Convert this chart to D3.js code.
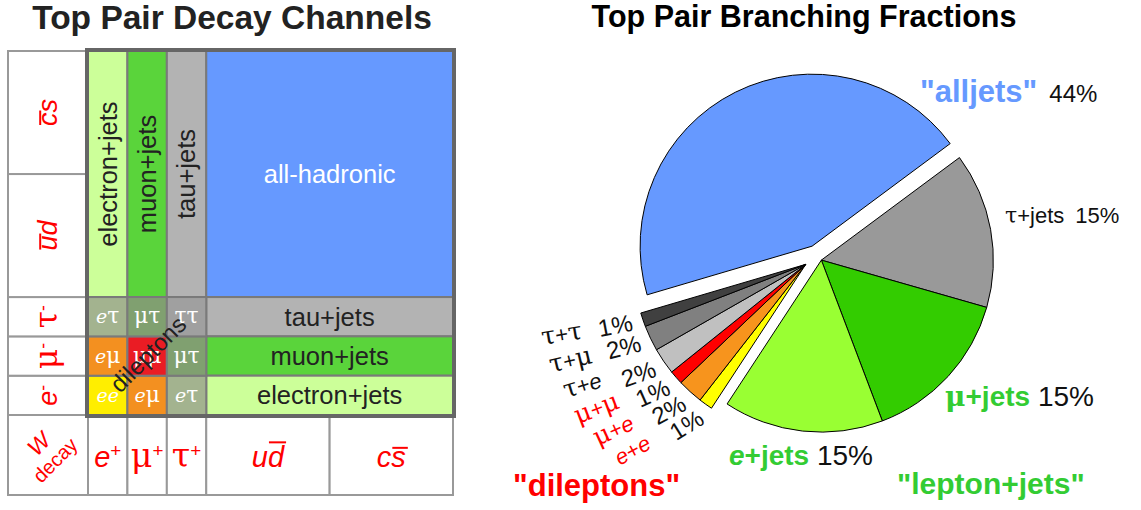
<!DOCTYPE html>
<html>
<head>
<meta charset="utf-8">
<script src="https://cdn.jsdelivr.net/npm/d3@7"></script>
<style>
  body { margin: 0; background: #fff; }
  text { font-family: "Liberation Sans", Arial, sans-serif; }
</style>
</head>
<body>
<script>
// W decay modes and their branching fractions (%), used for the grid widths
const wModes = ["e", "μ", "τ", "ud", "cs"];
const wFractions = [10.8, 10.8, 10.8, 33.8, 33.8];
// axis labels (^ = superscript, ! = bar over next char)
const wPlusLabels = ["e^+", "μ^+", "τ^+", "u!d", "c!s"];
const wMinusLabels = ["e^-", "μ^-", "τ^-", "!ud", "!cs"];

// grid channels: name, W+ first, W+ last, W- first, W- last
const gridChannels = [
  ["electron+jets", 0, 0, 3, 4],
  ["muon+jets", 1, 1, 3, 4],
  ["tau+jets", 2, 2, 3, 4],
  ["all-hadronic", 3, 4, 3, 4],
  ["tau+jets", 3, 4, 2, 2],
  ["muon+jets", 3, 4, 1, 1],
  ["electron+jets", 3, 4, 0, 0],
  ["ee", 0, 0, 0, 0], ["eμ", 1, 1, 0, 0], ["eτ", 2, 2, 0, 0],
  ["eμ", 0, 0, 1, 1], ["μμ", 1, 1, 1, 1], ["μτ", 2, 2, 1, 1],
  ["eτ", 0, 0, 2, 2], ["μτ", 1, 1, 2, 2], ["ττ", 2, 2, 2, 2]
];

// pie: top pair branching fractions (%)
const pieChannels = ["τ+jets", "μ+jets", "e+jets", "e+e", "μ+e", "μ+μ", "τ+e", "τ+μ", "τ+τ", "alljets"];
const pieValues = [14.6, 14.8, 15.0, 1.3, 2.4, 1.3, 2.5, 2.4, 1.3, 44.4];
const pieGroups = ["ljets", "ljets", "ljets", "dilep", "dilep", "dilep", "dilep", "dilep", "dilep", "alljets"];
const pieLabels = ["15%", "15%", "15%", "1%", "2%", "1%", "2%", "2%", "1%", "44%"];

const cellColors = {
  "electron+jets": "#ccff99", "muon+jets": "#5ad43b", "tau+jets": "#b3b3b3",
  "all-hadronic": "#6699ff", "ee": "#ffee00", "eμ": "#f39020", "μμ": "#ea1c24",
  "eτ": "#a3b38f", "μτ": "#80a070", "ττ": "#a0a0a0"
};
const pieColors = {
  "τ+jets": "#999999", "μ+jets": "#33cc00", "e+jets": "#99ff33",
  "e+e": "#ffff00", "μ+e": "#f7941d", "μ+μ": "#ff0000",
  "τ+e": "#c0c0c0", "τ+μ": "#808080", "τ+τ": "#404040", "alljets": "#6699ff"
};

const svg = d3.select("body").append("svg")
  .attr("width", 1141).attr("height", 510);

const SERIF = "'DejaVu Serif', 'Liberation Serif', serif";

// write a small marked-up label into a text element, returns indexes of barred chars
function rich(text, spec, italicLatin = true) {
  const bars = [];
  let k = 0;
  for (let i = 0; i < spec.length; i++) {
    let ch = spec[i], sup = false, bar = false;
    if (ch === "^") { sup = true; ch = spec[++i]; }
    else if (ch === "!") { bar = true; ch = spec[++i]; }
    const ts = text.append("tspan").text(ch);
    if (/[α-ω]/.test(ch)) ts.style("font-family", SERIF).style("font-size", "1.15em");
    if (/[a-z]/i.test(ch) && italicLatin) ts.style("font-style", "italic");
    if (sup) ts.attr("dy", "-0.5em").style("font-size", "0.65em");
    if (bar) bars.push(k);
    k++;
  }
  return bars;
}

function drawBars(g, text, bars, fs) {
  const node = text.node();
  const str = node.textContent;
  bars.forEach(i => {
    const ext = node.getExtentOfChar(i);
    const tall = "bdfhklt".includes(str[i]);
    const yy = ext.y + (tall ? 0.06 : 0.25) * fs;
    g.append("line")
      .attr("x1", ext.x + 1).attr("x2", ext.x + ext.width + 2)
      .attr("y1", yy).attr("y2", yy)
      .attr("stroke", "red").attr("stroke-width", 2);
  });
}

// ---------------- left: decay channel grid ----------------
const total = d3.sum(wFractions);
const starts = [0, ...d3.cumsum(wFractions)];
const x = d3.scaleLinear().domain([0, total]).range([88, 453]);
const y = d3.scaleLinear().domain([0, total]).range([415, 51]);
const labelX0 = 8, bottomY1 = 495;

svg.append("text")
  .attr("x", 232).attr("y", 29)
  .attr("text-anchor", "middle")
  .attr("font-size", 33.5).attr("font-weight", "bold").attr("fill", "#222")
  .text("Top Pair Decay Channels");

const grid = svg.append("g");

// outer frame of the table
grid.append("rect")
  .attr("x", labelX0).attr("y", y(total))
  .attr("width", x(total) - labelX0).attr("height", bottomY1 - y(total))
  .attr("fill", "#fff").attr("stroke", "#999").attr("stroke-width", 2);

// W- label column
wModes.forEach((m, i) => {
  const y0 = y(starts[i + 1]), y1 = y(starts[i]);
  grid.append("rect")
    .attr("x", labelX0).attr("y", y0)
    .attr("width", x(0) - labelX0).attr("height", y1 - y0)
    .attr("fill", "#fff").attr("stroke", "#999").attr("stroke-width", 2);
  const g = grid.append("g")
    .attr("transform", `translate(${(labelX0 + x(0)) / 2},${(y0 + y1) / 2}) rotate(-90)`);
  const t = g.append("text")
    .attr("text-anchor", "middle").attr("dy", "0.35em")
    .attr("font-size", 27).attr("fill", "red");
  const bars = rich(t, wMinusLabels[i]);
  drawBars(g, t, bars, 27);
});

// W+ label row
wModes.forEach((m, i) => {
  const x0 = x(starts[i]), x1 = x(starts[i + 1]);
  grid.append("rect")
    .attr("x", x0).attr("y", y(0))
    .attr("width", x1 - x0).attr("height", bottomY1 - y(0))
    .attr("fill", "#fff").attr("stroke", "#999").attr("stroke-width", 2);
  const g = grid.append("g")
    .attr("transform", `translate(${(x0 + x1) / 2},${(y(0) + bottomY1) / 2})`);
  const t = g.append("text")
    .attr("text-anchor", "middle").attr("dy", "0.4em")
    .attr("font-size", 29).attr("fill", "red");
  const bars = rich(t, wPlusLabels[i]);
  drawBars(g, t, bars, 29);
});

// corner "W decay"
const corner = grid.append("g")
  .attr("transform", `translate(${(labelX0 + x(0)) / 2},${(y(0) + bottomY1) / 2 - 2}) rotate(-45)`);
corner.append("text").attr("text-anchor", "middle").attr("y", -5)
  .attr("font-size", 23).attr("fill", "red").attr("font-style", "italic").text("W");
corner.append("text").attr("text-anchor", "middle").attr("y", 17)
  .attr("font-size", 20).attr("fill", "red").text("decay");

// channel cells
gridChannels.forEach(([name, c0, c1, r0, r1]) => {
  const x0 = x(starts[c0]), x1 = x(starts[c1 + 1]);
  const y0 = y(starts[r1 + 1]), y1 = y(starts[r0]);
  grid.append("rect")
    .attr("x", x0).attr("y", y0)
    .attr("width", x1 - x0).attr("height", y1 - y0)
    .attr("fill", cellColors[name])
    .attr("stroke", "#7a7a7a").attr("stroke-width", 2);
  const dilepton = name.length === 2;
  const vertical = (x1 - x0) < (y1 - y0) - 20;
  const t = grid.append("text")
    .attr("transform", `translate(${(x0 + x1) / 2},${(y0 + y1) / 2})${vertical ? " rotate(-90)" : ""}`)
    .attr("text-anchor", "middle").attr("dy", "0.35em")
    .attr("fill", dilepton || name === "all-hadronic" ? "#fff" : "#222");
  if (dilepton) {
    t.attr("font-size", 19).style("font-family", SERIF);
    rich(t, name);
  } else {
    t.attr("font-size", 25.5).text(name);
  }
});

// thick frame round the channels
grid.append("rect")
  .attr("x", x(0) - 1).attr("y", y(total) - 1)
  .attr("width", x(total) - x(0) + 2).attr("height", y(0) - y(total) + 2)
  .attr("fill", "none").attr("stroke", "#666").attr("stroke-width", 4);

// "dileptons" across the lepton-lepton block
const dl = starts[3];
grid.append("text")
  .attr("transform", `translate(${(x(0) + x(dl)) / 2 + 1},${(y(0) + y(dl)) / 2 - 2}) rotate(-45)`)
  .attr("text-anchor", "middle").attr("dy", "0.35em")
  .attr("font-size", 24).attr("fill", "#222")
  .text("dileptons");

// ---------------- right: branching fraction pie ----------------
svg.append("text")
  .attr("x", 804).attr("y", 27)
  .attr("text-anchor", "middle")
  .attr("font-size", 30.5).attr("font-weight", "bold").attr("fill", "#000")
  .text("Top Pair Branching Fractions");

const cx = 817, cy = 256, radius = 172;
const explode = { ljets: 6, alljets: 11, dilep: 14 };
const deg = Math.PI / 180;

const pie = d3.pie().sort(null)
  .startAngle(53.4 * deg).endAngle(53.4 * deg + 2 * Math.PI);
const arcs = pie(pieValues);
arcs.forEach((a, i) => { a.name = pieChannels[i]; a.group = pieGroups[i]; a.label = pieLabels[i]; });

const groupMid = {};
d3.group(arcs, a => a.group).forEach((list, key) => {
  groupMid[key] = (d3.min(list, a => a.startAngle) + d3.max(list, a => a.endAngle)) / 2;
});

const arc = d3.arc().innerRadius(0).outerRadius(radius);
const pieG = svg.append("g").attr("transform", `translate(${cx},${cy})`);

pieG.selectAll("path.slice")
  .data(arcs)
  .join("path")
  .attr("class", "slice")
  .attr("transform", a => {
    const m = groupMid[a.group], d = explode[a.group];
    return `translate(${d * Math.sin(m)},${-d * Math.cos(m)})`;
  })
  .attr("d", arc)
  .attr("fill", a => pieColors[a.name])
  .attr("stroke", "#000").attr("stroke-width", 1);

// dilepton labels
const dilep = arcs.filter(a => a.group === "dilep");
const dm = groupMid.dilep;
const dOff = [explode.dilep * Math.sin(dm), -explode.dilep * Math.cos(dm)];
dilep.forEach((a, j) => {
  const mid = (a.startAngle + a.endAngle) / 2 + 1 * deg;
  const screen = mid / deg - 90;
  const px = dOff[0] + 200 * Math.cos(screen * deg), py = dOff[1] + 200 * Math.sin(screen * deg);
  pieG.append("text")
    .attr("transform", `translate(${px},${py}) rotate(${0.6 * (screen - 180)})`)
    .attr("text-anchor", "middle").attr("dy", "0.35em")
    .attr("font-size", 24).attr("fill", "#111")
    .text(a.label);
  const nAng = 133 + 6.2 * j;
  const nx = dOff[0] + 254 * Math.cos(nAng * deg), ny = dOff[1] + 254 * Math.sin(nAng * deg);
  const t = pieG.append("text")
    .attr("transform", `translate(${nx},${ny}) rotate(${0.6 * (nAng - 180)})`)
    .attr("text-anchor", "middle").attr("dy", "0.35em")
    .attr("font-size", 22)
    .attr("fill", a.name.includes("τ") ? "#111" : "red");
  rich(t, a.name);
});

// big annotations
function note(px, py, parts, size) {
  const t = svg.append("text").attr("x", px).attr("y", py).attr("font-size", size);
  parts.forEach(([s, color, bold, italic, serif]) => {
    const ts = t.append("tspan").text(s).attr("fill", color);
    if (bold) ts.attr("font-weight", "bold");
    if (italic) ts.attr("font-style", "italic");
    if (serif) ts.style("font-family", SERIF);
  });
  return t;
}
const byName = Object.fromEntries(arcs.map(a => [a.name, a]));
note(920, 102, [["\"alljets\"", "#6699ff", true], ["\u2002" + byName["alljets"].label, "#111"]], 31)
  .select("tspan:last-child").attr("font-size", 24);
note(1005, 223, [["τ", "#111", false, false, true], ["+jets\u2002" + byName["τ+jets"].label, "#111"]], 22);
note(945, 406, [["μ", "#33cc33", true, false, true], ["+jets", "#33cc33", true], [" " + byName["μ+jets"].label, "#111"]], 28);
note(729, 465, [["e", "#33cc33", true, true], ["+jets", "#33cc33", true], [" " + byName["e+jets"].label, "#111"]], 28);
note(897, 494, [["\"lepton+jets\"", "#33cc33", true]], 30);
note(513, 496, [["\"dileptons\"", "#ff0000", true]], 31);
</script>
</body>
</html>
